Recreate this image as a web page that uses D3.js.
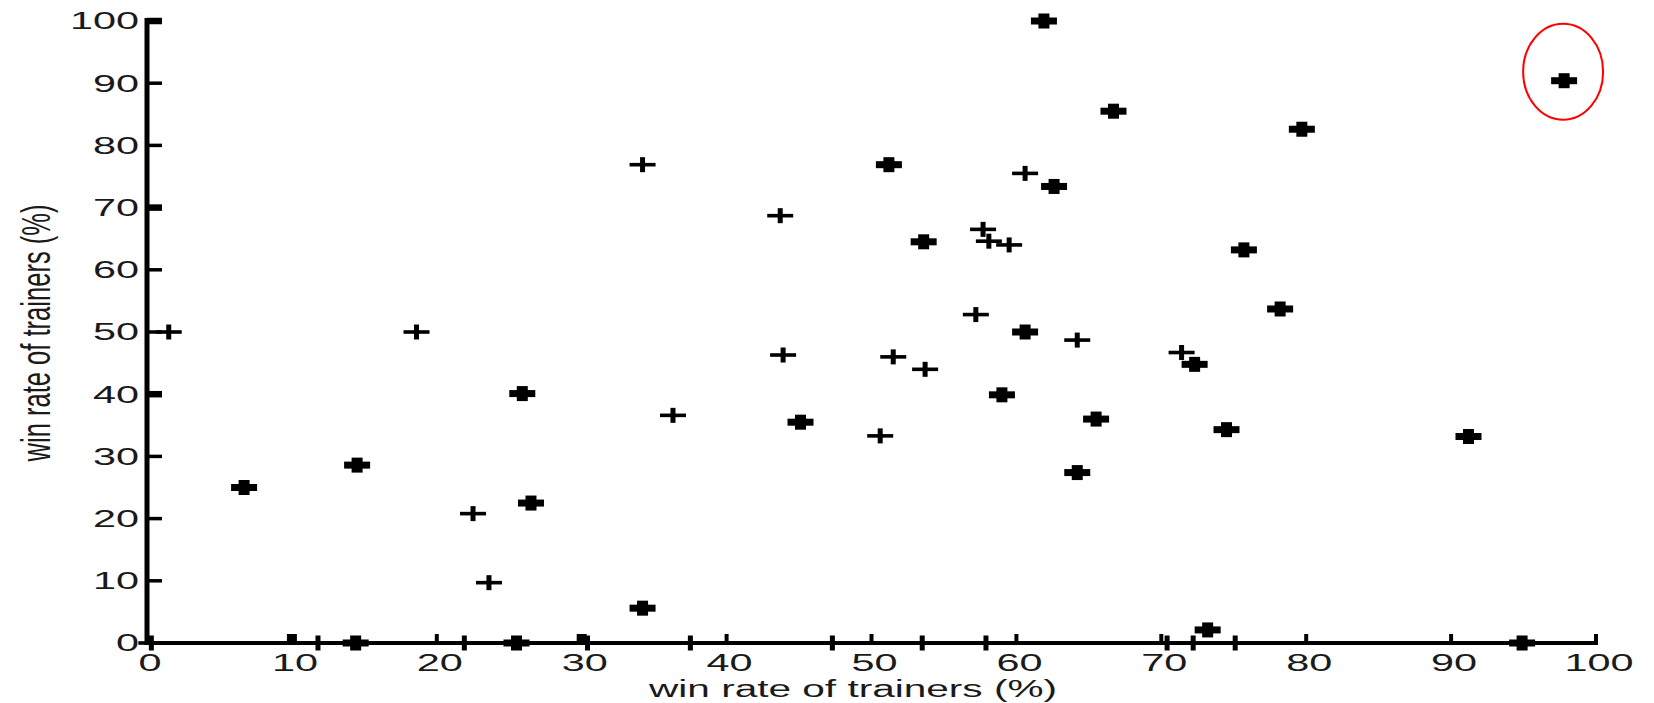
<!DOCTYPE html>
<html>
<head>
<meta charset="utf-8">
<script src="https://cdn.jsdelivr.net/npm/d3@7"></script>
<style>
  html, body { margin: 0; padding: 0; background: #fff; }
  svg { display: block; }
  text { font-family: "Liberation Sans", Arial, Helvetica, sans-serif; fill: #1a1a1a; }
</style>
</head>
<body>
<svg id="chart" width="1654" height="703"></svg>
<script>
// ---- data ----
const xTickValues = [0, 10, 20, 30, 40, 50, 60, 70, 80, 90, 100];
const yTickValues = [0, 10, 20, 30, 40, 50, 60, 70, 80, 90, 100];
const xLabel = "win rate of trainers (%)";
const yLabel = "win rate of trainers (%)";

const trainerWinRate = [
  0.3, 1.5, 6.7, 11.8, 14.4, 14.5, 18.6, 21.9, 22.5, 23.6,
  25.5, 25.9, 26.5, 30.4, 34.2, 34.2, 36.3, 37.5, 43.7, 43.9,
  45.1, 47.3, 50.6, 51.2, 51.5, 53.5, 53.6, 53.7, 57.2, 57.7,
  57.9, 58.1, 59.0, 59.5, 60.6, 60.6, 61.9, 62.6, 64.2, 64.2,
  65.5, 66.7, 70.4, 71.4, 72.2, 72.3, 73.2, 74.5, 75.1, 75.7,
  78.2, 79.7, 91.2, 94.9, 97.8
];
const otherWinRate = [
  0, 50, 25, 0, 0, 28.6, 50, 0, 20.8, 9.7,
  0, 40.1, 22.5, 0, 76.9, 5.6, 36.6, 0, 68.7, 46.3,
  35.5, 0, 33.3, 76.9, 46.0, 0, 64.5, 44.0, 52.8, 66.5,
  0, 64.6, 39.9, 64.0, 75.5, 50.0, 100, 73.4, 48.7, 27.4,
  36.0, 85.5, 0, 46.7, 0, 44.8, 2.1, 34.3, 0, 63.2,
  53.7, 82.6, 33.2, 0, 90.4
];
const highlightedIndex = 54;

// ---- rendering appearance (markers that print heavier in the picture) ----
const heavyMarkers = new Set([2,4,5,10,11,12,15,20,23,26,32,35,36,37,39,40,41,45,46,47,49,50,51,52,53,54]);

const points = trainerWinRate.map((x, i) => ({ x, y: otherWinRate[i], i }));

const svg = d3.select("#chart");
const W = 1654, H = 703;
const margin = { left: 147, right: 58, top: 21, bottom: 60 };

const x = d3.scaleLinear().domain([0, 100]).range([margin.left, W - margin.right]);
const y = d3.scaleLinear().domain([0, 100]).range([H - margin.bottom, margin.top]);

const SX = 1.8; // horizontal stretch of the picture's text

// axes lines
const axisG = svg.append("g");
axisG.append("line")
  .attr("x1", x(0)).attr("x2", x(0))
  .attr("y1", y(100) - 3).attr("y2", y(0) + 2)
  .attr("stroke", "#000").attr("stroke-width", 5);
axisG.append("line")
  .attr("x1", x(0) - 2).attr("x2", x(100) + 2)
  .attr("y1", y(0)).attr("y2", y(0))
  .attr("stroke", "#000").attr("stroke-width", 4);

// y ticks (inward) and labels
const thickY = new Set([100, 70, 40]);
const yT = axisG.selectAll(".yt").data(yTickValues).join("g");
yT.append("line")
  .attr("x1", x(0)).attr("x2", x(0) + 15)
  .attr("y1", d => y(d)).attr("y2", d => y(d))
  .attr("stroke", "#000")
  .attr("stroke-width", d => thickY.has(d) ? 6.5 : 3.5);
yT.append("text")
  .attr("transform", d => `translate(${x(0) - 8},${y(d) + 8.3}) scale(${SX},1)`)
  .attr("text-anchor", "end")
  .attr("font-size", 23)
  .text(d => d);

// x ticks (inward) and labels
const thickX = new Set([10, 30]);
const xT = axisG.selectAll(".xt").data(xTickValues).join("g");
xT.append("line")
  .attr("x1", d => x(d)).attr("x2", d => x(d))
  .attr("y1", y(0)).attr("y2", y(0) - 9)
  .attr("stroke", "#000")
  .attr("stroke-width", d => thickX.has(d) ? 10 : 4);
xT.append("text")
  .attr("transform", d => `translate(${x(d) + 3},${y(0) + 27.5}) scale(${SX},1)`)
  .attr("text-anchor", "middle")
  .attr("font-size", 23)
  .text(d => d);

// axis titles
svg.append("text")
  .attr("x", 649).attr("y", 697)
  .attr("font-size", 23)
  .attr("textLength", 408)
  .attr("lengthAdjust", "spacingAndGlyphs")
  .text(xLabel);

svg.append("text")
  .attr("transform", `translate(50,${(y(0) + y(100)) / 2 + 1}) scale(1.76,1) rotate(-90)`)
  .attr("text-anchor", "middle")
  .attr("font-size", 23)
  .attr("textLength", 257)
  .attr("lengthAdjust", "spacingAndGlyphs")
  .text(yLabel);

// plus markers
const mk = svg.append("g");
const pG = mk.selectAll(".pt").data(points).join("g")
  .attr("transform", d => `translate(${x(d.x)},${y(d.y)})`);
pG.append("rect")
  .attr("x", -13).attr("width", 26)
  .attr("y", d => heavyMarkers.has(d.i) ? -3.5 : -1.8)
  .attr("height", d => heavyMarkers.has(d.i) ? 7 : 3.6)
  .attr("fill", "#000");
pG.append("rect")
  .attr("y", -7.5).attr("height", 15)
  .attr("x", d => heavyMarkers.has(d.i) ? -5.5 : -2.5)
  .attr("width", d => heavyMarkers.has(d.i) ? 11 : 5)
  .attr("fill", "#000");

// red highlight ellipse around the circled point
const hp = points[highlightedIndex];
svg.append("ellipse")
  .attr("cx", x(hp.x) - 1)
  .attr("cy", y(hp.y) - 9)
  .attr("rx", 40).attr("ry", 48)
  .attr("fill", "none")
  .attr("stroke", "#ff0000")
  .attr("stroke-width", 2);
</script>
</body>
</html>
